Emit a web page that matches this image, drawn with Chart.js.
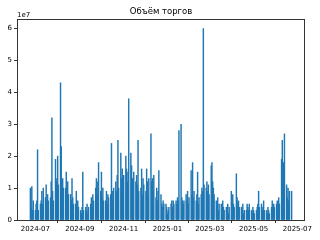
<!DOCTYPE html>
<html lang="ru">
<head>
    <meta charset="UTF-8">
    <title>Объём торгов</title>
    <script src="https://cdn.jsdelivr.net/npm/chart.js"></script>
    <style>
        body { margin: 0; background: #fff; }
        #chart { display: block; }
    </style>
</head>
<body>
    <canvas id="chart" width="320" height="240"></canvas>

    <script>
        // торговые дни (пн-пт) начиная с этой даты
        const firstDay = '2024-06-24';

        // объём, млн (по неделям, пн..пт)
        const volume = [
            10, 4, 10.5, 3, 6,
            3, 5, 6, 22, 3,
            5, 6, 9, 5, 10,
            7, 11, 6, 8, 6,
            7, 12, 32, 9, 6,
            19, 12, 13, 20, 11,
            43, 23, 12, 13, 10,
            10, 15, 9, 12, 8,
            8, 6, 13, 7, 5,
            5, 9, 4, 6, 4,
            3, 2, 4, 15, 3,
            4, 3, 5, 2, 4,
            5, 7, 4, 8, 6,
            10, 13, 8, 12, 18,
            9, 15, 7, 10, 6,
            6, 9, 5, 8, 7,
            8, 24, 9, 6, 10,
            12, 9, 14, 25, 10,
            21, 13, 16, 10, 14,
            20, 16, 12, 15, 38,
            21, 17, 13, 10, 15,
            12, 14, 11, 25, 9,
            10, 16, 8, 13, 11,
            9, 16, 12, 8, 13,
            27, 12, 13, 9, 14,
            7, 10, 6, 9, 15.5,
            8, 5, 4, 6, 5,
            5, 4, 2, 3, 4,
            5, 6, 4, 6, 5,
            6, 5, 7, 6, 28,
            30, 7, 6, 5, 6,
            8, 6, 9, 5, 7,
            15.5, 8, 18, 7, 9,
            6, 8, 15, 5, 7,
            8, 10, 9, 60, 11,
            10, 12, 9, 11, 8,
            17, 18, 12, 10, 8,
            6, 4, 7, 3, 5,
            5, 3, 6, 4, 3,
            4, 3, 5, 2, 4,
            9, 6, 8, 5, 4,
            14.5, 7, 5, 6, 4,
            4, 3, 5, 2, 3,
            3, 5, 4, 3, 5,
            3, 2, 4, 3, 2,
            3, 4, 5, 9, 4,
            5, 3, 4, 6, 3,
            3, 2, 4, 3, 2,
            4, 6, 3, 5, 4,
            5, 6, 4, 7, 5,
            19, 25, 10, 18, 27,
            11, 7, 10, 6, 9,
            9
        ];

        const xTickLabels = ['2024-07', '2024-09', '2024-11', '2025-01', '2025-03', '2025-05', '2025-07'];
        const yTicks = [0, 1, 2, 3, 4, 5, 6];   // в единицах 1e7

        function dayNum(s) {
            const p = s.split('-').map(Number);
            return Date.UTC(p[0], p[1] - 1, p[2] || 1) / 86400000;
        }

        // даты торговых дней
        const days = [];
        let d = dayNum(firstDay);
        while (days.length < volume.length) {
            const wd = new Date(d * 86400000).getUTCDay();
            if (wd !== 0 && wd !== 6) days.push(d);
            d++;
        }
        const points = volume.map((v, i) => ({ x: days[i], y: v }));
        const margin = (days[days.length - 1] - days[0] + 0.8) * 0.05;

        const font = { family: 'DejaVu Sans', size: 7 };

        const frame = {
            id: 'frame',
            afterDraw(c) {
                const { ctx, chartArea: a } = c;
                ctx.save();
                ctx.strokeStyle = '#333';
                ctx.lineWidth = 1;
                ctx.strokeRect(a.left + 0.5, a.top + 0.5, a.right - a.left - 1, a.bottom - a.top);
                ctx.fillStyle = '#000';
                ctx.font = '8.5px "DejaVu Sans"';
                ctx.textAlign = 'center';
                ctx.textBaseline = 'middle';
                ctx.fillText('Объём торгов', (a.left + a.right) / 2, 11.5);
                ctx.font = '7px "DejaVu Sans"';
                ctx.textAlign = 'left';
                ctx.fillText('1e7', a.left, 15);
                ctx.restore();
            }
        };

        new Chart(document.getElementById('chart'), {
            type: 'bar',
            data: {
                datasets: [{
                    data: points,
                    backgroundColor: '#1f77b4',
                    borderWidth: 0,
                    barThickness: 0.8
                }]
            },
            options: {
                responsive: false,
                animation: false,
                devicePixelRatio: 1,
                layout: { padding: { top: 19, right: 15, left: 0, bottom: 0 } },
                plugins: { legend: { display: false }, tooltip: { enabled: false } },
                scales: {
                    x: {
                        type: 'linear',
                        offset: false,
                        min: days[0] - 0.4 - margin,
                        max: days[days.length - 1] + 0.4 + margin,
                        afterBuildTicks: s => { s.ticks = xTickLabels.map(t => ({ value: dayNum(t + '-01') })); },
                        afterFit: s => { s.height = 20; },
                        ticks: {
                            autoSkip: false,
                            maxRotation: 0,
                            padding: 2,
                            color: '#000',
                            font: font,
                            callback: (v) => xTickLabels.find(t => dayNum(t + '-01') === v) || ''
                        },
                        grid: { display: true, drawOnChartArea: false, drawTicks: true, tickLength: 3, color: '#333' },
                        border: { display: false }
                    },
                    y: {
                        min: 0,
                        max: 63,
                        afterBuildTicks: s => { s.ticks = yTicks.map(t => ({ value: t * 10 })); },
                        afterFit: s => { s.width = 17; },
                        ticks: {
                            padding: 2,
                            color: '#000',
                            font: font,
                            callback: v => String(v / 10)
                        },
                        grid: { display: true, drawOnChartArea: false, drawTicks: true, tickLength: 3, color: '#333' },
                        border: { display: false }
                    }
                }
            },
            plugins: [frame]
        });
    </script>
</body>
</html>
